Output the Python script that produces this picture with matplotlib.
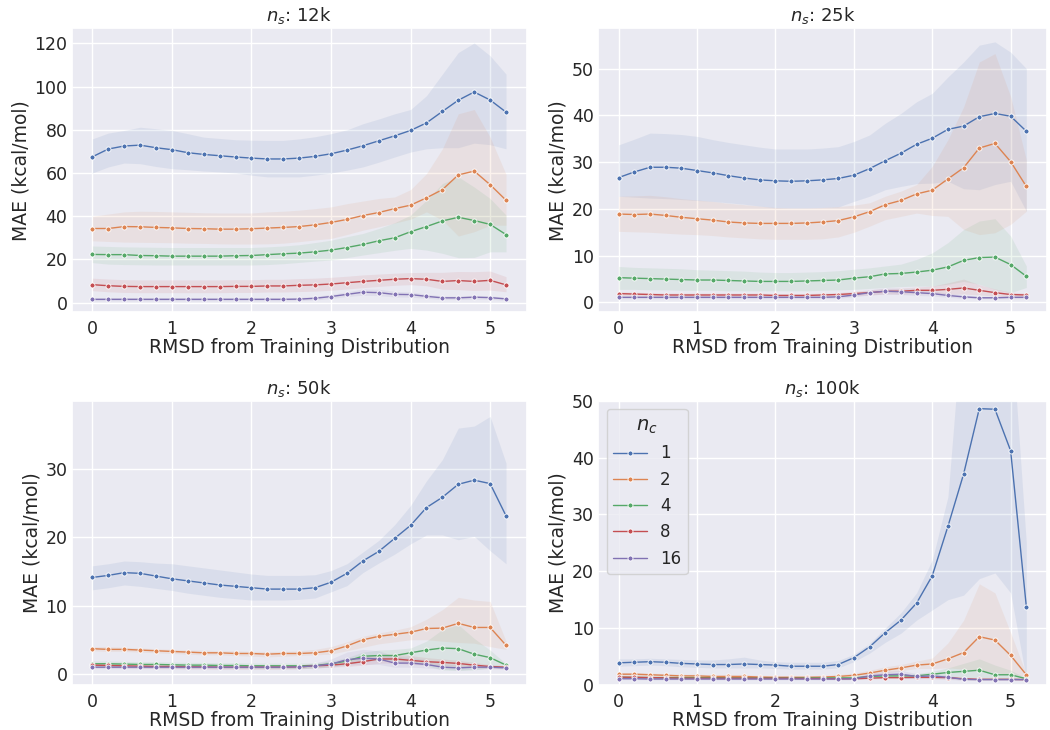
import matplotlib
matplotlib.use("Agg")
import matplotlib.pyplot as plt
import seaborn as sns

# ---------------- data ----------------
x = [0.0, 0.2, 0.4, 0.6, 0.8, 1.0, 1.2, 1.4, 1.6, 1.8, 2.0, 2.2, 2.4, 2.6,
     2.8, 3.0, 3.2, 3.4, 3.6, 3.8, 4.0, 4.2, 4.4, 4.6, 4.8, 5.0, 5.2]
n_c = ["1", "2", "4", "8", "16"]
titles = ["12k", "25k", "50k", "100k"]

# n_s = 12k
m12_1 = [67.5, 71.1, 72.5, 72.9, 71.7, 70.8, 69.4, 68.6, 68.0, 67.4, 66.9, 66.5, 66.5, 66.9, 67.7, 68.9, 70.6, 72.6, 74.9, 77.2, 79.7, 83.2, 88.5, 93.7, 97.5, 93.8, 88.2]
lo12_1 = [60.0, 62.8, 64.6, 64.3, 63.0, 62.0, 61.5, 60.9, 60.5, 60.0, 59.0, 58.2, 58.2, 58.2, 59.0, 60.0, 61.3, 62.8, 65.0, 67.4, 69.7, 71.2, 71.7, 71.7, 73.8, 73.1, 71.2]
hi12_1 = [75.8, 78.5, 79.7, 81.2, 80.5, 79.7, 78.2, 76.6, 76.0, 75.4, 75.2, 75.1, 75.1, 75.8, 76.8, 78.2, 80.0, 82.8, 85.0, 87.4, 89.4, 95.8, 105.8, 115.8, 120.2, 114.3, 105.8]
m12_2 = [34.3, 34.3, 35.2, 35.1, 34.8, 34.6, 34.3, 34.2, 34.0, 34.0, 34.2, 34.5, 34.8, 35.2, 36.0, 37.1, 38.5, 40.3, 41.7, 43.5, 45.1, 48.5, 52.3, 59.1, 60.9, 54.6, 47.4]
lo12_2 = [28.6, 28.3, 28.0, 27.9, 27.8, 27.7, 27.5, 27.4, 27.2, 27.1, 27.1, 27.2, 27.5, 28.2, 29.0, 29.7, 31.5, 33.5, 35.1, 36.8, 38.6, 42.0, 38.2, 30.8, 32.8, 35.8, 35.8]
hi12_2 = [40.0, 41.0, 42.0, 42.3, 42.2, 42.0, 41.8, 41.6, 41.5, 41.5, 41.5, 42.0, 42.3, 42.8, 43.5, 44.3, 45.8, 47.0, 48.2, 48.9, 52.3, 59.7, 71.2, 87.4, 89.4, 76.6, 59.4]
m12_4 = [22.3, 22.2, 22.2, 21.8, 21.7, 21.5, 21.5, 21.5, 21.5, 21.7, 21.8, 22.2, 22.6, 22.9, 23.5, 24.3, 25.5, 26.9, 28.6, 30.0, 32.8, 35.2, 37.8, 39.5, 38.0, 36.2, 31.5]
lo12_4 = [18.5, 17.8, 17.6, 17.5, 17.4, 17.4, 17.4, 17.4, 17.4, 17.4, 17.4, 17.6, 18.0, 18.6, 19.2, 19.7, 20.8, 22.0, 23.1, 24.2, 25.1, 24.3, 22.8, 20.8, 20.9, 23.5, 23.5]
hi12_4 = [26.2, 26.0, 25.8, 25.7, 25.6, 25.5, 25.5, 25.5, 25.5, 25.5, 25.5, 25.8, 26.2, 26.8, 27.8, 28.9, 30.5, 32.0, 34.3, 37.0, 40.5, 47.4, 55.1, 58.2, 53.5, 48.2, 40.5]
m12_8 = [8.3, 7.8, 7.5, 7.4, 7.4, 7.4, 7.4, 7.4, 7.4, 7.5, 7.5, 7.7, 7.7, 8.0, 8.2, 8.6, 9.2, 9.8, 10.3, 10.8, 11.1, 10.8, 9.8, 10.2, 9.8, 10.3, 8.2]
lo12_8 = [5.5, 5.0, 4.7, 4.6, 4.6, 4.6, 4.6, 4.6, 4.6, 4.7, 4.7, 4.9, 4.9, 5.1, 5.3, 5.7, 6.3, 6.9, 7.5, 8.0, 8.3, 7.8, 6.2, 6.0, 5.6, 5.8, 5.0]
hi12_8 = [11.3, 10.9, 10.6, 10.5, 10.5, 10.5, 10.5, 10.5, 10.5, 10.6, 10.6, 10.8, 10.8, 11.1, 11.3, 11.7, 12.2, 12.8, 13.2, 13.6, 13.9, 14.0, 14.0, 14.4, 14.3, 14.6, 12.0]
m12_16 = [1.5, 1.5, 1.5, 1.5, 1.5, 1.5, 1.5, 1.5, 1.5, 1.5, 1.5, 1.5, 1.5, 1.6, 2.0, 2.8, 3.8, 4.8, 4.6, 3.8, 3.7, 2.9, 2.2, 2.2, 2.5, 2.3, 1.7]
lo12_16 = [0.8, 0.8, 0.8, 0.8, 0.8, 0.8, 0.8, 0.8, 0.8, 0.8, 0.8, 0.8, 0.8, 0.9, 1.2, 1.9, 2.8, 3.4, 3.2, 2.6, 2.5, 2.0, 1.4, 1.4, 1.6, 1.5, 1.0]
hi12_16 = [2.3, 2.3, 2.3, 2.3, 2.3, 2.3, 2.3, 2.3, 2.3, 2.3, 2.3, 2.3, 2.3, 2.4, 2.9, 3.8, 5.0, 6.3, 6.2, 5.2, 4.9, 3.9, 3.1, 3.0, 3.3, 3.1, 2.5]

# n_s = 25k
m25_1 = [26.7, 27.9, 28.9, 28.9, 28.7, 28.2, 27.7, 27.1, 26.6, 26.2, 26.0, 25.9, 26.0, 26.2, 26.5, 27.2, 28.6, 30.3, 31.9, 33.8, 35.1, 37.0, 37.7, 39.7, 40.4, 39.8, 36.6]
lo25_1 = [22.7, 22.5, 22.3, 22.2, 22.0, 21.8, 21.6, 21.3, 21.0, 20.6, 20.2, 20.2, 20.2, 20.3, 20.4, 21.6, 22.7, 24.1, 24.8, 25.4, 25.5, 25.9, 24.3, 24.1, 25.2, 25.9, 19.5]
hi25_1 = [33.7, 34.9, 36.2, 36.1, 35.9, 35.5, 34.8, 34.2, 33.7, 33.2, 32.8, 32.8, 32.8, 33.0, 33.3, 34.4, 35.8, 38.3, 40.4, 42.9, 44.7, 48.2, 51.4, 55.0, 55.7, 53.5, 50.0]
m25_2 = [18.9, 18.8, 18.9, 18.6, 18.2, 17.9, 17.6, 17.2, 17.0, 16.9, 16.9, 16.9, 17.0, 17.2, 17.5, 18.3, 19.4, 20.9, 21.8, 23.2, 24.0, 26.4, 28.8, 33.0, 34.0, 30.1, 24.8]
lo25_2 = [15.2, 15.1, 15.0, 14.8, 14.6, 14.5, 14.3, 14.0, 13.8, 13.6, 13.5, 13.5, 13.5, 13.6, 14.0, 15.0, 16.3, 17.7, 18.4, 19.1, 18.6, 18.4, 15.6, 14.5, 14.9, 16.7, 19.5]
hi25_2 = [22.7, 22.8, 22.9, 22.6, 22.2, 21.9, 21.6, 21.2, 20.9, 20.6, 20.3, 20.2, 20.2, 20.3, 20.5, 20.8, 21.3, 22.7, 23.8, 25.2, 29.1, 34.8, 41.8, 51.4, 53.2, 44.0, 30.5]
m25_4 = [5.3, 5.2, 5.1, 5.0, 4.9, 4.8, 4.8, 4.7, 4.6, 4.5, 4.5, 4.5, 4.6, 4.7, 4.8, 5.2, 5.5, 6.1, 6.2, 6.5, 6.9, 7.6, 9.0, 9.6, 9.7, 8.1, 5.6]
lo25_4 = [2.8, 2.8, 2.7, 2.7, 2.6, 2.6, 2.6, 2.5, 2.5, 2.5, 2.5, 2.5, 2.5, 2.6, 2.7, 2.8, 3.0, 3.2, 3.4, 3.5, 3.5, 3.9, 4.5, 3.9, 2.8, 2.1, 3.2]
hi25_4 = [7.7, 7.5, 7.4, 7.3, 7.2, 7.0, 6.9, 6.8, 6.7, 6.5, 6.4, 6.4, 6.5, 6.6, 6.8, 7.1, 7.4, 7.8, 8.2, 9.2, 10.6, 12.8, 15.6, 17.4, 17.9, 14.2, 7.8]
m25_8 = [1.9, 1.8, 1.7, 1.6, 1.6, 1.6, 1.6, 1.6, 1.6, 1.6, 1.5, 1.5, 1.5, 1.6, 1.7, 1.9, 2.1, 2.4, 2.4, 2.6, 2.6, 2.8, 3.1, 2.6, 2.1, 1.7, 1.6]
lo25_8 = [1.5, 1.4, 1.3, 1.2, 1.2, 1.2, 1.2, 1.2, 1.2, 1.2, 1.1, 1.1, 1.1, 1.2, 1.3, 1.4, 1.6, 1.8, 1.8, 1.9, 1.8, 1.8, 1.8, 1.6, 1.4, 1.2, 1.2]
hi25_8 = [2.3, 2.2, 2.1, 2.0, 2.0, 2.0, 2.0, 2.0, 2.0, 2.0, 1.9, 1.9, 1.9, 2.0, 2.1, 2.4, 2.7, 3.0, 3.1, 3.3, 3.5, 4.2, 5.0, 3.8, 2.9, 2.2, 2.0]
m25_16 = [1.1, 1.1, 1.1, 1.1, 1.1, 1.1, 1.1, 1.1, 1.1, 1.1, 1.1, 1.1, 1.1, 1.1, 1.2, 1.6, 2.1, 2.4, 2.3, 2.1, 1.9, 1.5, 1.2, 1.0, 1.0, 1.1, 1.1]
lo25_16 = [0.8, 0.8, 0.8, 0.8, 0.8, 0.8, 0.8, 0.8, 0.8, 0.8, 0.8, 0.8, 0.8, 0.8, 0.9, 1.2, 1.6, 1.8, 1.7, 1.5, 1.4, 1.1, 0.9, 0.8, 0.8, 0.8, 0.8]
hi25_16 = [1.4, 1.4, 1.4, 1.4, 1.4, 1.4, 1.4, 1.4, 1.4, 1.4, 1.4, 1.4, 1.4, 1.4, 1.5, 2.0, 2.7, 3.1, 3.0, 2.8, 2.5, 2.0, 1.6, 1.3, 1.3, 1.4, 1.4]

# n_s = 50k
m50_1 = [14.1, 14.4, 14.8, 14.7, 14.3, 13.9, 13.6, 13.3, 13.0, 12.8, 12.6, 12.4, 12.4, 12.4, 12.6, 13.4, 14.7, 16.5, 17.9, 19.8, 21.7, 24.3, 25.8, 27.7, 28.3, 27.8, 23.1]
lo50_1 = [12.3, 12.6, 13.0, 12.8, 12.5, 12.2, 11.8, 11.5, 11.2, 11.0, 10.8, 10.8, 10.8, 10.9, 11.1, 12.0, 12.9, 14.8, 16.2, 17.5, 19.0, 20.3, 20.3, 19.6, 20.1, 18.0, 16.1]
hi50_1 = [15.8, 16.1, 16.5, 16.4, 16.2, 16.1, 15.8, 15.5, 15.2, 14.9, 14.6, 14.4, 14.4, 14.4, 14.5, 15.1, 16.1, 17.8, 19.5, 21.8, 24.6, 28.2, 31.3, 35.9, 36.2, 37.6, 30.8]
m50_2 = [3.7, 3.6, 3.6, 3.5, 3.4, 3.3, 3.2, 3.1, 3.1, 3.0, 3.0, 2.9, 3.0, 3.0, 3.1, 3.4, 4.1, 5.0, 5.5, 5.8, 6.1, 6.65, 6.7, 7.4, 6.8, 6.8, 4.2]
lo50_2 = [3.4, 3.3, 3.3, 3.2, 3.1, 3.0, 2.9, 2.8, 2.8, 2.7, 2.6, 2.5, 2.6, 2.7, 2.8, 2.9, 3.4, 3.9, 4.4, 4.7, 5.0, 5.0, 4.8, 4.6, 4.5, 4.0, 3.6]
hi50_2 = [4.0, 4.0, 3.9, 3.8, 3.7, 3.6, 3.5, 3.5, 3.4, 3.4, 3.3, 3.3, 3.3, 3.4, 3.6, 4.0, 4.7, 5.5, 6.0, 6.4, 6.9, 8.0, 9.4, 11.2, 10.8, 10.6, 4.8]
m50_4 = [1.5, 1.5, 1.45, 1.4, 1.4, 1.35, 1.3, 1.3, 1.25, 1.25, 1.2, 1.2, 1.2, 1.2, 1.25, 1.5, 1.9, 2.6, 2.7, 2.7, 3.1, 3.5, 3.8, 3.7, 2.9, 2.4, 1.3]
lo50_4 = [1.1, 1.1, 1.05, 1.0, 1.0, 0.95, 0.9, 0.9, 0.85, 0.85, 0.8, 0.8, 0.8, 0.8, 0.85, 1.1, 1.4, 1.9, 2.0, 1.9, 1.9, 1.2, 0.6, 0.5, 0.6, 0.9, 1.1]
hi50_4 = [1.9, 1.9, 1.85, 1.8, 1.8, 1.75, 1.7, 1.7, 1.65, 1.65, 1.6, 1.6, 1.6, 1.6, 1.65, 1.9, 2.4, 3.2, 3.5, 3.6, 3.8, 4.8, 6.5, 7.2, 5.2, 3.5, 1.5]
m50_8 = [1.3, 1.25, 1.2, 1.15, 1.1, 1.1, 1.05, 1.05, 1.0, 1.0, 1.0, 1.0, 1.0, 1.05, 1.2, 1.3, 1.5, 1.8, 2.2, 2.2, 2.0, 1.8, 1.7, 1.55, 1.3, 1.1, 1.0]
lo50_8 = [1.0, 0.95, 0.9, 0.85, 0.8, 0.8, 0.75, 0.75, 0.7, 0.7, 0.7, 0.7, 0.7, 0.75, 0.9, 1.0, 1.1, 1.3, 1.6, 1.6, 1.4, 1.3, 1.2, 1.1, 0.95, 0.8, 0.8]
hi50_8 = [1.6, 1.55, 1.5, 1.45, 1.4, 1.4, 1.35, 1.35, 1.3, 1.3, 1.3, 1.3, 1.3, 1.35, 1.5, 1.7, 2.0, 2.5, 2.9, 2.9, 2.7, 2.4, 2.2, 2.0, 1.7, 1.4, 1.2]
m50_16 = [1.0, 1.0, 1.0, 1.0, 1.0, 1.0, 1.0, 1.0, 1.0, 1.0, 1.0, 1.0, 1.0, 1.05, 1.2, 1.45, 2.1, 2.3, 2.2, 1.6, 1.6, 1.4, 1.0, 0.9, 1.0, 1.0, 0.9]
lo50_16 = [0.8, 0.8, 0.8, 0.8, 0.8, 0.8, 0.8, 0.8, 0.8, 0.8, 0.8, 0.8, 0.8, 0.85, 0.9, 1.0, 1.3, 1.4, 1.4, 1.0, 1.0, 0.9, 0.7, 0.6, 0.7, 0.8, 0.7]
hi50_16 = [1.2, 1.2, 1.2, 1.2, 1.2, 1.2, 1.2, 1.2, 1.2, 1.2, 1.2, 1.2, 1.2, 1.3, 1.6, 2.2, 3.2, 3.6, 3.4, 2.6, 2.4, 2.1, 1.5, 1.3, 1.3, 1.2, 1.1]

# n_s = 100k
m100_1 = [3.9, 4.0, 4.1, 4.0, 3.8, 3.7, 3.6, 3.6, 3.7, 3.6, 3.5, 3.3, 3.3, 3.3, 3.6, 4.8, 6.7, 9.2, 11.4, 14.4, 19.2, 27.9, 37.1, 48.6, 48.5, 41.2, 13.8]
lo100_1 = [3.3, 3.4, 3.5, 3.4, 3.2, 3.1, 3.0, 3.0, 3.0, 3.0, 2.9, 2.8, 2.8, 2.8, 3.0, 4.1, 5.6, 7.5, 9.1, 11.4, 13.2, 15.0, 15.8, 18.7, 19.7, 16.2, 1.0]
hi100_1 = [4.6, 4.6, 4.7, 4.6, 4.5, 4.4, 4.4, 4.6, 4.9, 4.4, 4.1, 4.0, 4.0, 4.0, 4.3, 5.4, 7.3, 10.0, 12.7, 16.2, 22.0, 33.1, 67.0, 85.0, 90.0, 65.0, 25.0]
m100_2 = [1.9, 1.9, 1.8, 1.7, 1.6, 1.6, 1.5, 1.5, 1.5, 1.4, 1.35, 1.35, 1.35, 1.4, 1.5, 1.7, 2.1, 2.6, 3.0, 3.5, 3.7, 4.6, 5.7, 8.5, 7.9, 5.2, 1.8]
lo100_2 = [1.6, 1.6, 1.5, 1.4, 1.3, 1.3, 1.2, 1.2, 1.2, 1.1, 1.05, 1.05, 1.05, 1.1, 1.2, 1.4, 1.7, 2.1, 2.5, 2.9, 2.9, 3.0, 2.8, 2.5, 2.2, 1.8, 1.5]
hi100_2 = [2.2, 2.2, 2.1, 2.0, 1.9, 1.9, 1.8, 1.8, 1.8, 1.7, 1.65, 1.65, 1.65, 1.7, 1.8, 2.1, 2.6, 3.2, 3.6, 4.2, 4.75, 7.4, 11.4, 17.8, 16.2, 9.2, 1.9]
m100_4 = [1.35, 1.35, 1.3, 1.3, 1.3, 1.3, 1.3, 1.25, 1.25, 1.25, 1.25, 1.25, 1.25, 1.25, 1.25, 1.25, 1.5, 1.6, 1.6, 1.6, 1.9, 2.2, 2.4, 2.6, 1.8, 1.8, 1.1]
lo100_4 = [1.15, 1.15, 1.1, 1.1, 1.1, 1.1, 1.1, 1.05, 1.05, 1.05, 1.05, 1.05, 1.05, 1.05, 1.05, 1.05, 1.2, 1.3, 1.3, 1.3, 1.4, 1.5, 1.3, 1.2, 1.1, 1.1, 1.0]
hi100_4 = [1.55, 1.55, 1.5, 1.5, 1.5, 1.5, 1.5, 1.45, 1.45, 1.45, 1.45, 1.45, 1.45, 1.45, 1.45, 1.45, 1.8, 1.9, 1.9, 2.0, 2.4, 3.0, 3.8, 4.6, 3.5, 2.6, 1.2]
m100_8 = [1.4, 1.35, 1.3, 1.25, 1.2, 1.2, 1.2, 1.2, 1.2, 1.2, 1.2, 1.2, 1.15, 1.15, 1.1, 1.1, 1.2, 1.3, 1.3, 1.35, 1.35, 1.3, 1.1, 1.0, 1.0, 1.0, 0.95]
lo100_8 = [1.25, 1.2, 1.15, 1.1, 1.05, 1.05, 1.05, 1.05, 1.05, 1.05, 1.05, 1.05, 1.0, 1.0, 0.95, 0.95, 1.0, 1.1, 1.1, 1.1, 1.1, 1.05, 0.9, 0.85, 0.85, 0.85, 0.8]
hi100_8 = [1.55, 1.5, 1.45, 1.4, 1.35, 1.35, 1.35, 1.35, 1.35, 1.35, 1.35, 1.35, 1.3, 1.3, 1.25, 1.25, 1.4, 1.5, 1.5, 1.6, 1.6, 1.55, 1.3, 1.15, 1.15, 1.15, 1.1]
m100_16 = [1.1, 1.1, 1.05, 1.05, 1.05, 1.05, 1.05, 1.05, 1.05, 1.05, 1.05, 1.05, 1.05, 1.05, 1.05, 1.1, 1.6, 1.8, 1.9, 1.5, 1.6, 1.35, 1.0, 0.95, 0.95, 0.95, 0.95]
lo100_16 = [0.95, 0.95, 0.9, 0.9, 0.9, 0.9, 0.9, 0.9, 0.9, 0.9, 0.9, 0.9, 0.9, 0.9, 0.9, 0.95, 1.2, 1.3, 1.3, 1.1, 1.2, 1.0, 0.8, 0.8, 0.8, 0.8, 0.8]
hi100_16 = [1.25, 1.25, 1.2, 1.2, 1.2, 1.2, 1.2, 1.2, 1.2, 1.2, 1.2, 1.2, 1.2, 1.2, 1.2, 1.3, 2.1, 2.4, 2.6, 2.0, 2.1, 1.7, 1.2, 1.1, 1.1, 1.1, 1.1]

means = [[m12_1, m12_2, m12_4, m12_8, m12_16],
         [m25_1, m25_2, m25_4, m25_8, m25_16],
         [m50_1, m50_2, m50_4, m50_8, m50_16],
         [m100_1, m100_2, m100_4, m100_8, m100_16]]
lows = [[lo12_1, lo12_2, lo12_4, lo12_8, lo12_16],
        [lo25_1, lo25_2, lo25_4, lo25_8, lo25_16],
        [lo50_1, lo50_2, lo50_4, lo50_8, lo50_16],
        [lo100_1, lo100_2, lo100_4, lo100_8, lo100_16]]
highs = [[hi12_1, hi12_2, hi12_4, hi12_8, hi12_16],
         [hi25_1, hi25_2, hi25_4, hi25_8, hi25_16],
         [hi50_1, hi50_2, hi50_4, hi50_8, hi50_16],
         [hi100_1, hi100_2, hi100_4, hi100_8, hi100_16]]

# ---------------- style ----------------
sns.set_theme(style="darkgrid", font_scale=1.1)
plt.rcParams['font.family'] = ['DejaVu Sans']
colors = sns.color_palette("deep")

fig = plt.figure(figsize=(10.5, 7.3), dpi=100)
W, H = 1050.0, 730.0
boxes = [(71.7, 526.7, 28.3, 312.3), (598.3, 1046.7, 28.3, 312.3),
         (71.7, 526.7, 400.7, 685.0), (598.3, 1046.7, 400.7, 685.0)]
ylims = [(-4.5, 127), (-2.1, 58.6), (-1.6, 39.9), (0, 50)]

for k, (l, r, t, b) in enumerate(boxes):
    ax = fig.add_axes([l / W, 1 - b / H, (r - l) / W, (b - t) / H])
    for j in range(5):
        c = colors[j]
        ax.fill_between(x, lows[k][j], highs[k][j], color=c, alpha=0.1, lw=0)
        ax.plot(x, means[k][j], color=c, lw=1.0, marker='o', ms=3.6,
                mec='white', mew=0.6, label=n_c[j])
    ax.set_xlim(-0.26, 5.46)
    ax.set_ylim(*ylims[k])
    ax.set_xticks([0, 1, 2, 3, 4, 5])
    ax.set_title(r"$n_s$: " + titles[k], fontsize=13, pad=5)
    ax.set_xlabel("RMSD from Training Distribution", fontsize=13.5, labelpad=0)
    ax.set_ylabel("MAE (kcal/mol)", fontsize=13.5, labelpad=3)
    ax.tick_params(axis='x', labelsize=12.5, length=0, pad=5.5)
    ax.tick_params(axis='y', labelsize=12.5, length=0, pad=3)
    if k == 3:
        ax.legend(title=r"$n_c$", loc="upper left", fontsize=12,
                  title_fontsize=14)

fig.savefig("out.png", dpi=100)
